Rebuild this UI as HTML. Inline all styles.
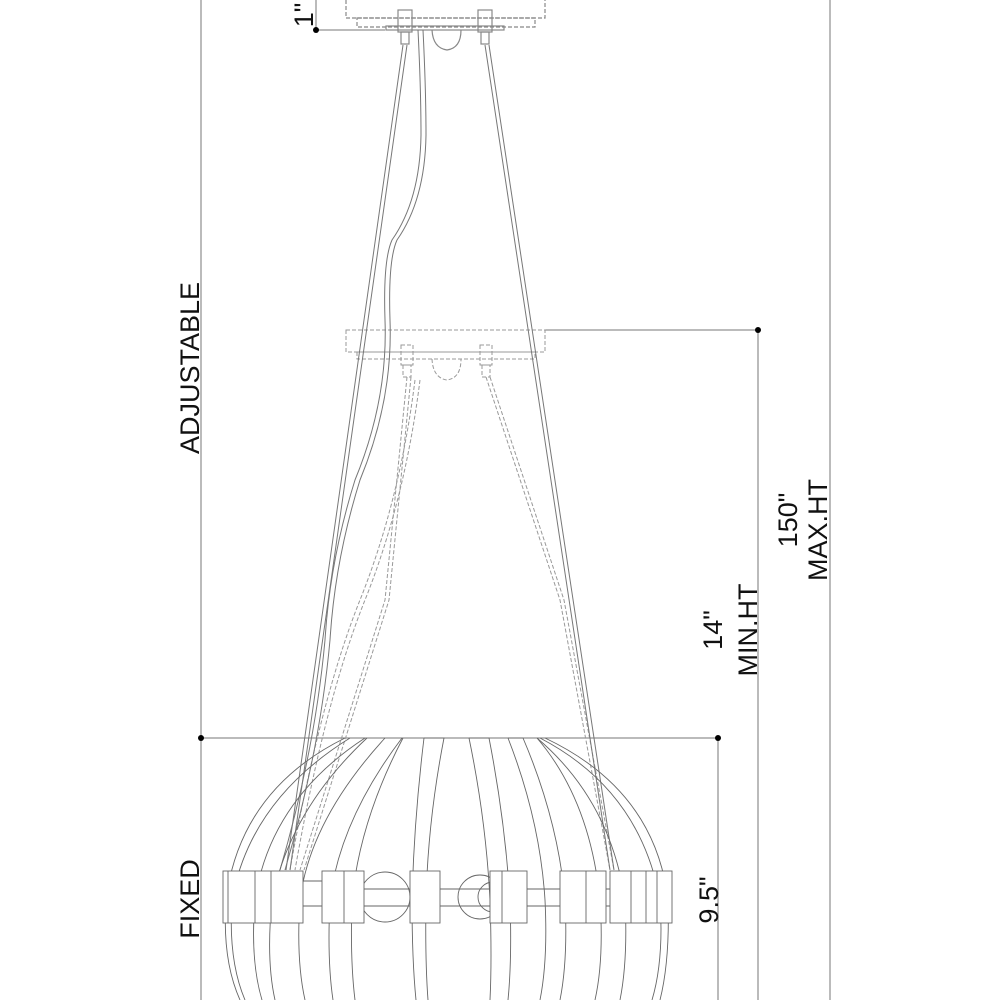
<!DOCTYPE html>
<html><head><style>html,body{margin:0;padding:0;background:#fff}svg{display:block}</style></head>
<body>
<svg width="1000" height="1000" viewBox="0 0 1000 1000" xmlns="http://www.w3.org/2000/svg" font-family="Liberation Sans, sans-serif">
<g stroke="#bbb" stroke-width="2" fill="none">
<line x1="201" y1="0" x2="201" y2="1000"/>
<line x1="830" y1="0" x2="830" y2="1000"/>
<line x1="758" y1="330" x2="758" y2="1000"/>
<line x1="718" y1="738" x2="718" y2="1000"/>
<line x1="316" y1="0" x2="316" y2="30"/>
</g>
<g stroke="#777" stroke-width="1" fill="none">
<line x1="201" y1="738" x2="718" y2="738"/>
<line x1="545" y1="330" x2="758" y2="330"/>
<line x1="316" y1="30" x2="385" y2="30"/>
</g>
<g fill="#000"><circle cx="201" cy="738" r="3"/><circle cx="718" cy="738" r="3"/><circle cx="758" cy="330" r="3"/><circle cx="316" cy="30" r="3"/></g>
<!-- top canopy -->
<g stroke="#888" fill="none" stroke-width="1.2">
<rect x="346" y="-2" width="199" height="20" stroke-dasharray="4 2"/>
<rect x="357" y="18" width="178" height="9" stroke-dasharray="4 2"/>
<rect x="386" y="26" width="118" height="4"/>
<path d="M432 30 Q433 48 447 50 Q461 48 461 30"/>
<rect x="398" y="10" width="14" height="22"/><rect x="478" y="10" width="14" height="22"/>
<rect x="401" y="32" width="8" height="12"/><rect x="481" y="32" width="8" height="12"/>
</g>
<!-- lower canopy (dashed) -->
<g stroke="#999" fill="none" stroke-width="1" stroke-dasharray="4 2">
<rect x="346" y="330" width="199" height="22"/>
<rect x="357" y="352" width="178" height="7"/>
<path d="M432 359 Q433 378 447 380 Q461 378 461 359"/>
<rect x="401" y="345" width="12" height="20"/><rect x="480" y="345" width="12" height="20"/>
<rect x="403" y="365" width="8" height="12"/><rect x="482" y="365" width="8" height="12"/>
<path d="M407 377 L385 600 L300 870 M411 377 L389 600 L304 870"/>
<path d="M486 377 L560 600 L610 870 M490 377 L564 600 L614 870"/>
<path d="M415 380 Q400 500 360 600 Q320 700 290 870 M420 380 Q405 500 365 600 Q325 700 295 870"/>
</g>
<!-- cables -->
<g stroke="#777" fill="none" stroke-width="1">
<path d="M403 45 L286 870 M407 45 L290 870"/>
<path d="M485 45 L610 870 M489 45 L614 870"/>
<path d="M418 30 Q421 90 421 135 Q420 200 392 240 Q383 260 385 320 Q388 400 355 480 Q330 560 325 640 Q315 750 280 870"/>
<path d="M423 30 Q426 90 426 135 Q425 200 397 240 Q388 260 390 320 Q393 400 360 480 Q335 560 330 640 Q320 750 285 870"/>
</g>
<!-- globe ribs -->
<g stroke="#666" fill="none" stroke-width="0.9">
<path d="M345 738 Q240 790 226 900 Q222 960 240 1000"/>
<path d="M350 738 Q250 800 232 900 Q228 960 245 1000"/>
<path d="M365 738 Q270 800 255 900 Q250 960 262 1000"/>
<path d="M367 738 Q290 810 272 900 Q266 960 275 1000"/>
<path d="M385 738 Q310 820 300 900 Q296 960 305 1000"/>
<path d="M402 738 Q340 820 330 900 Q327 960 333 1000"/>
<path d="M403 738 Q360 820 352 900 Q350 960 355 1000"/>
<path d="M424 738 L444 738 Q428 820 426 900 Q425 960 428 1000"/>
<path d="M424 738 Q414 820 412 900 Q412 960 416 1000"/>
<path d="M469 738 Q486 820 490 900 Q492 960 490 1000"/>
<path d="M469 738 L489 738 Q505 820 510 900 Q512 960 508 1000"/>
<path d="M508 738 Q540 820 545 900 Q548 960 540 1000"/>
<path d="M508 738 L523 738 Q558 820 565 900 Q568 960 560 1000"/>
<path d="M537 738 Q590 800 600 900 Q604 960 595 1000"/>
<path d="M537 738 Q610 800 625 900 Q628 960 620 1000"/>
<path d="M540 738 Q640 790 660 900 Q664 960 652 1000"/>
<path d="M545 738 Q655 790 668 900 Q670 960 660 1000"/>
</g>
<!-- band -->
<g stroke="#666" fill="#fff" stroke-width="0.9">
<line x1="303" y1="881" x2="322" y2="881"/><line x1="303" y1="906" x2="322" y2="906"/>
<line x1="364" y1="889" x2="610" y2="889"/><line x1="364" y1="906" x2="610" y2="906"/>
<circle cx="385" cy="897" r="25" fill="none"/>
<circle cx="480" cy="897" r="22" fill="none"/>
<circle cx="493" cy="897" r="15" fill="none"/>
<rect x="223" y="871" width="80" height="52"/>
<line x1="228" y1="871" x2="228" y2="923"/><line x1="255" y1="871" x2="255" y2="923"/><line x1="271" y1="871" x2="271" y2="923"/>
<rect x="322" y="871" width="42" height="52"/><line x1="344" y1="871" x2="344" y2="923"/>
<rect x="410" y="871" width="30" height="52"/>
<rect x="490" y="871" width="37" height="52"/><line x1="502" y1="871" x2="502" y2="923"/>
<rect x="560" y="871" width="46" height="52"/><line x1="586" y1="871" x2="586" y2="923"/>
<rect x="610" y="871" width="62" height="52"/>
<line x1="631" y1="871" x2="631" y2="923"/><line x1="646" y1="871" x2="646" y2="923"/><line x1="657" y1="871" x2="657" y2="923"/>
</g>
<!-- labels -->
<g fill="#111" font-size="27" text-anchor="middle">
<text transform="translate(199,368) rotate(-90)">ADJUSTABLE</text>
<text transform="translate(199,899) rotate(-90)">FIXED</text>
<text transform="translate(797,520) rotate(-90)">150"</text>
<text transform="translate(827,530) rotate(-90)">MAX.HT</text>
<text transform="translate(722,630) rotate(-90)">14"</text>
<text transform="translate(757,630) rotate(-90)">MIN.HT</text>
<text transform="translate(718,900) rotate(-90)">9.5"</text>
<text transform="translate(313,15) rotate(-90)">1"</text>
</g>
</svg>
</body></html>
